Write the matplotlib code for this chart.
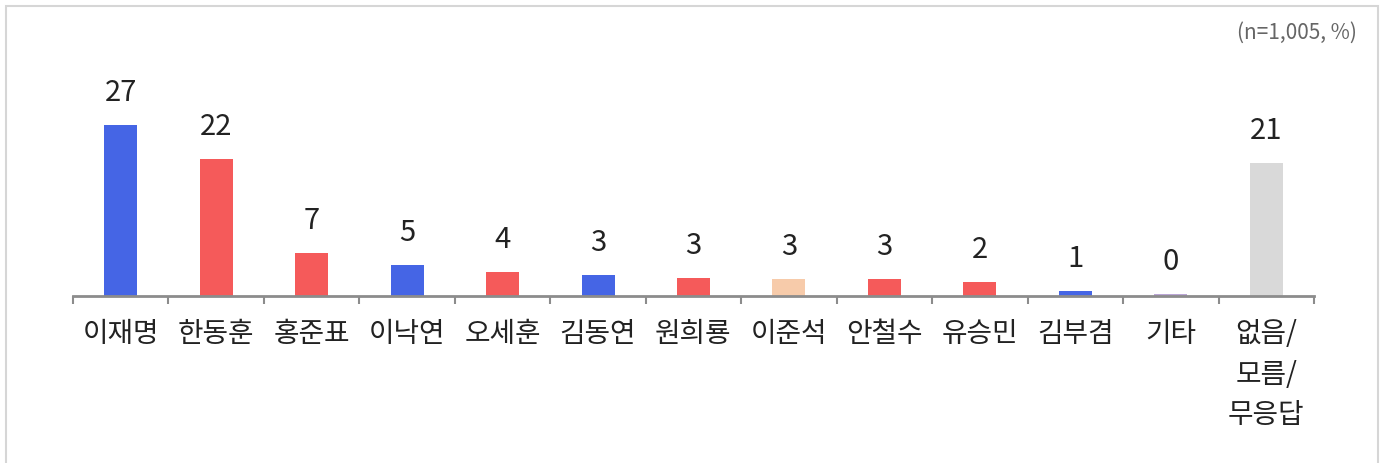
import matplotlib
matplotlib.use("Agg")
import matplotlib.pyplot as plt
import matplotlib.patches as patches
import numpy as np

plt.rcParams['font.family'] = ['Noto Sans CJK KR', 'DejaVu Sans']

names = ['이재명', '한동훈', '홍준표', '이낙연', '오세훈', '김동연', '원희룡',
         '이준석', '안철수', '유승민', '김부겸', '기타', '없음/\n모름/\n무응답']
values = [27.0, 21.6, 6.8, 4.9, 3.8, 3.3, 2.8, 2.7, 2.7, 2.2, 0.8, 0.3, 21.0]
labels = ['27', '22', '7', '5', '4', '3', '3', '3', '3', '2', '1', '0', '21']

BLUE = '#4565e5'
RED = '#f55a5a'
colors = [BLUE, RED, RED, BLUE, RED, BLUE, RED, '#f7cbaa', RED, RED, BLUE,
          '#bba6d6', '#d9d9d9']

W, H = 1384, 464
fig = plt.figure(figsize=(W / 100, H / 100), dpi=100)

# light frame around the whole chart (open at the bottom)
fig.patches.append(patches.Rectangle(
    (5.5 / W, -0.1), (1377.5 - 5.5) / W, 1.1 - 6.5 / H,
    transform=fig.transFigure, fill=False, edgecolor='#d6d6d6', linewidth=1.5))

base_y = 297
px_per_unit = 6.33
top_units = 30
ax = fig.add_axes([73 / W, (H - base_y) / H, (1314 - 73) / W,
                   top_units * px_per_unit / H])

x = np.arange(len(names))
ax.bar(x, values, width=0.345, color=colors, zorder=2)
ax.set_xlim(-0.5, len(names) - 0.5)
ax.set_ylim(0, top_units)

for xi, v, lab in zip(x, values, labels):
    ax.annotate(lab, (xi, v), xytext=(0, 13), textcoords='offset points',
                ha='center', va='bottom', fontsize=21, color='#222222',
                fontweight='medium', annotation_clip=False)

for s in ['top', 'right', 'left']:
    ax.spines[s].set_visible(False)
ax.spines['bottom'].set_color('#8c8c8c')
ax.spines['bottom'].set_linewidth(2)
ax.set_yticks([])

ax.set_xticks(np.arange(-0.5, len(names), 1.0))
ax.set_xticklabels([])
ax.tick_params(axis='x', length=6, width=1.5, color='#8c8c8c')
ax.set_xticks(x, minor=True)
ax.set_xticklabels(names, minor=True, fontsize=20, color='#222222',
                   fontweight='medium', linespacing=1.45, va='top')
ax.tick_params(axis='x', which='minor', length=0, pad=16)

fig.text(1357 / W, 1 - 33 / H, '(n=1,005, %)', ha='right', va='center',
         fontsize=15, color='#666666', fontweight='light')

fig.savefig('out.png', dpi=100)
